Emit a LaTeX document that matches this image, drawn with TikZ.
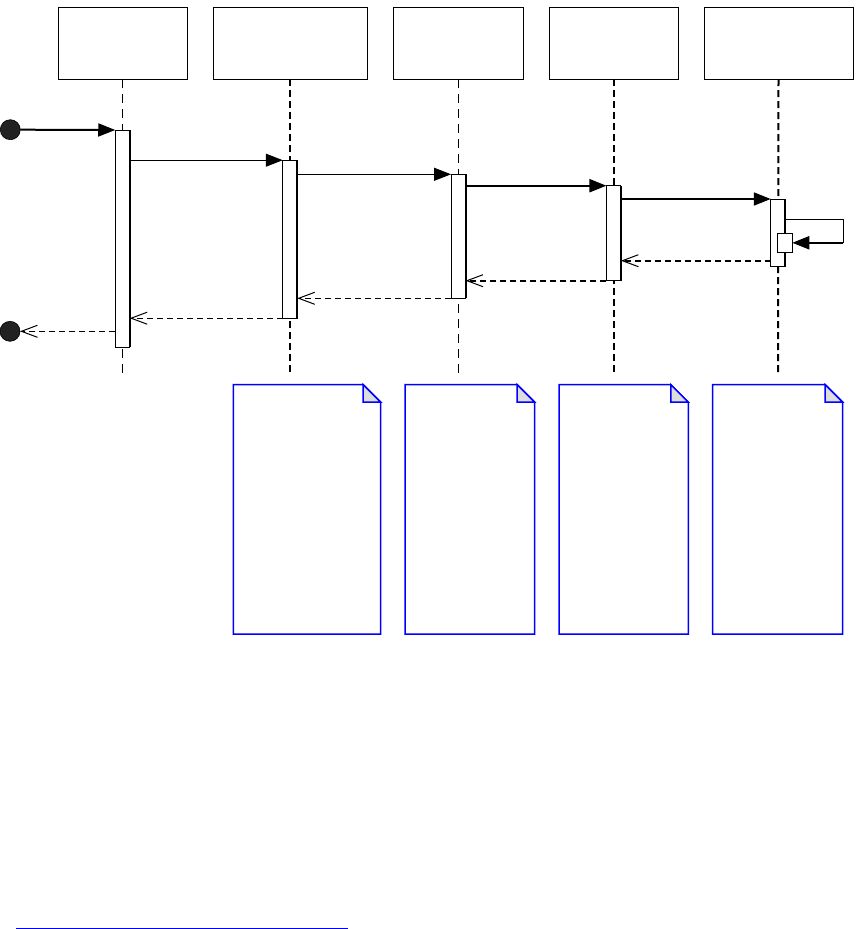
\documentclass[tikz,border=0pt]{standalone}
\usetikzlibrary{arrows.meta,calc}
\definecolor{dotc}{HTML}{222222}
\definecolor{foldc}{HTML}{DDDDDD}
\begin{document}
\begin{tikzpicture}[x=1pt,y=-1pt,
  head/.style={draw=black,line width=1pt,fill=white,rectangle,inner sep=0pt,outer sep=0pt,minimum height=72pt},
  bar/.style={draw=black,line width=1pt,fill=white,rectangle,inner sep=0pt,outer sep=0pt,minimum width=14.5pt},
  thinlife/.style={line width=1pt,dash pattern=on 9pt off 6pt},
  thicklife/.style={line width=2pt,dash pattern=on 7pt off 4pt},
  call/.style={line width=1pt,-{Triangle[length=17pt,width=13pt]}},
  callthick/.style={line width=2pt,-{Triangle[length=17pt,width=13pt]}},
  ret/.style={line width=1pt,dash pattern=on 6pt off 4pt,-{Straight Barb[length=16pt,width=12pt]}},
  retthick/.style={line width=2pt,dash pattern=on 6pt off 4pt,-{Straight Barb[length=16pt,width=12pt,line width=1pt]}},
  dot/.style={circle,draw=black,line width=0.6pt,fill=dotc,minimum size=20pt,inner sep=0pt,outer sep=0pt},
  note/.style={rectangle,inner sep=0pt,outer sep=0pt,minimum height=249.3pt},
  notedraw/.style={draw=blue,line width=1.5pt,fill=white},
  folddraw/.style={draw=blue,line width=1.5pt,fill=foldc}]
\useasboundingbox (0,0) rectangle (864,929);

% header boxes
\node[head,minimum width=129pt] (h1) at (122.5,43) {};
\node[head,minimum width=154pt] (h2) at (290,43) {};
\node[head,minimum width=130pt] (h3) at (458,43) {};
\node[head,minimum width=129pt] (h4) at (613.5,43) {};
\node[head,minimum width=149pt] (h5) at (778.5,43) {};

% lifeline ends
\coordinate (l1) at (122.5,375);
\coordinate (l2) at (290,375);
\coordinate (l3) at (458,375);
\coordinate (l4) at (613.5,375);
\coordinate (l5) at (778,375);
\draw[thinlife] (h1.south) -- (l1);
\draw[thicklife] (h2.south) -- (l2);
\draw[thinlife] (h3.south) -- (l3);
\draw[thicklife] (h4.south) -- (l4);
\draw[thicklife] (h5.south) -- (l5);

% activation bars
\node[bar,minimum height=217pt] (b1) at (122.5,238.5) {};
\node[bar,minimum height=158pt] (b2) at (290,239.2) {};
\node[bar,minimum height=124pt] (b3) at (458.3,236.3) {};
\node[bar,minimum height=95pt] (b4) at (613.7,233.2) {};
\node[bar,minimum height=67pt] (b5) at (778,232.5) {};
\foreach \b in {b1,b2,b3,b4,b5}{
  \draw[line width=2pt] (\b.north east) -- (\b.south east);
}
\node[bar,minimum height=19pt] (n5) at (785,242.8) {};

% start / end
\node[dot] (s) at (10.3,129.7) {};
\node[dot] (e) at (10,331.3) {};

% calls
\draw[callthick] (s.east) -- (b1.north west);
\draw[call] (b1.east |- b2.north) -- (b2.north west);
\draw[call] (b2.east |- b3.north) -- (b3.north west);
\draw[callthick] (b3.east |- b4.north) -- (b4.north west);
\draw[callthick] (b4.east |- b5.north) -- (b5.north west);
\coordinate (sc) at (843,219.3);
\draw[line width=1pt] (b5.east |- sc) -- (sc) -- (sc |- n5.east);
\draw[callthick] (sc |- n5.east) -- (n5.east);

% returns
\coordinate (r5s) at ([yshift=5.3pt]b5.south west);
\draw[retthick] (r5s) -- (b4.east |- r5s);
\draw[retthick] (b4.south west) -- (b3.east |- b4.south);
\draw[ret] (b3.south west) -- (b2.east |- b3.south);
\draw[ret] (b2.south west) -- (b1.east |- b2.south);
\draw[ret] (b1.west |- e) -- (e.east);

% notes
\node[note,minimum width=147.4pt] (d1) at (307,509.35) {};
\node[note,minimum width=129.7pt] (d2) at (469.85,509.35) {};
\node[note,minimum width=129.3pt] (d3) at (623.65,509.35) {};
\node[note,minimum width=130pt] (d4) at (777.7,509.35) {};
\foreach \d in {d1,d2,d3,d4}{
  \draw[notedraw] (\d.north west) -- ([xshift=-17.5pt]\d.north east) -- ([yshift=-17.5pt]\d.north east) -- (\d.south east) -- (\d.south west) -- cycle;
  \draw[folddraw] ([xshift=-17.5pt]\d.north east) -- ([xshift=-17.5pt,yshift=-17.5pt]\d.north east) -- ([yshift=-17.5pt]\d.north east) -- cycle;
}

% bottom link underline
\coordinate (u1) at (16,928.2);
\coordinate (u2) at (347.7,928.2);
\draw[blue,line width=1pt] (u1) -- (u2);
\end{tikzpicture}
\end{document}
